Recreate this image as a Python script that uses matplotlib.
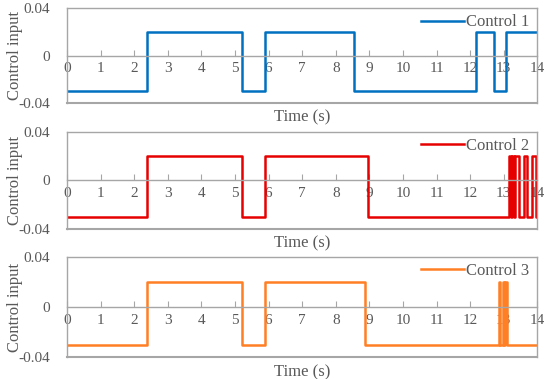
import matplotlib.pyplot as plt

# switching times (s) and control levels
t1 = [0, 2.39, 5.21, 5.88, 8.53, 12.16, 12.72, 13.07, 14]
u1 = [-0.03, 0.02, -0.03, 0.02, -0.03, 0.02, -0.03, 0.02, 0.02]

t2 = [0, 2.38, 5.21, 5.88, 8.95, 13.17, 13.22, 13.26, 13.31, 13.34, 13.44,
      13.60, 13.68, 13.83, 13.97, 14]
u2 = [-0.03, 0.02, -0.03, 0.02, -0.03, 0.02, -0.03, 0.02, -0.03, 0.02, -0.03,
      0.02, -0.03, 0.02, -0.03, -0.03]

t3 = [0, 2.38, 5.21, 5.88, 8.86, 12.85, 12.90, 12.97, 13.02, 13.04, 13.10, 14]
u3 = [-0.03, 0.02, -0.03, 0.02, -0.03, 0.02, -0.03, 0.02, -0.03, 0.02, -0.03, -0.03]

labels = ['Control 1', 'Control 2', 'Control 3']
colors = ['#0070C0', '#E60000', '#FF7F24']
xticks = list(range(0, 15))
yticks = [-0.04, 0, 0.04]
yticklabels = ['-0.04', '0', '0.04']

plt.rcParams['font.family'] = 'Liberation Serif'
gray = '#A6A6A6'
txt = '#595959'

fig = plt.figure(figsize=(5.5, 3.79), dpi=100)
boxes = [[0.122, 0.728, 0.855, 0.251],
         [0.122, 0.396, 0.855, 0.256],
         [0.122, 0.058, 0.855, 0.264]]

for box, t, u, lab, c in zip(boxes, [t1, t2, t3], [u1, u2, u3], labels, colors):
    ax = fig.add_axes(box)
    ax.step(t, u, where='post', color=c, lw=1.8, label=lab)
    ax.set_xlim(0, 14)
    ax.set_ylim(-0.04, 0.04)
    for s in ['top', 'left', 'right', 'bottom']:
        ax.spines[s].set_color(gray)
        ax.spines[s].set_linewidth(1.0)
    ax.spines['bottom'].set_position(('data', 0))
    ax.axhline(-0.04, color=gray, lw=1.5, clip_on=False)
    ax.set_xticks(xticks)
    ax.set_xticklabels([str(x) for x in xticks])
    ax.tick_params(axis='x', direction='in', length=4, color=gray,
                   labelcolor=txt, labelsize=11, pad=5)
    ax.set_yticks(yticks)
    ax.set_yticklabels(yticklabels)
    ax.tick_params(axis='y', length=0, labelcolor=txt, labelsize=11, pad=12)
    ax.text(0.5, -0.15, 'Time (s)', transform=ax.transAxes, ha='center',
            va='center', fontsize=12, color=txt)
    ax.text(-0.11, 0.5, 'Control input', transform=ax.transAxes, ha='center',
            va='center', rotation=90, fontsize=12, color=txt)
    leg = ax.legend(loc='upper right', frameon=False, fontsize=12,
                    handlelength=2.6, handletextpad=0.1,
                    borderaxespad=0.1, bbox_to_anchor=(1.0, 1.02))
    for tx in leg.get_texts():
        tx.set_color(txt)

fig.savefig('out.png', dpi=100)
